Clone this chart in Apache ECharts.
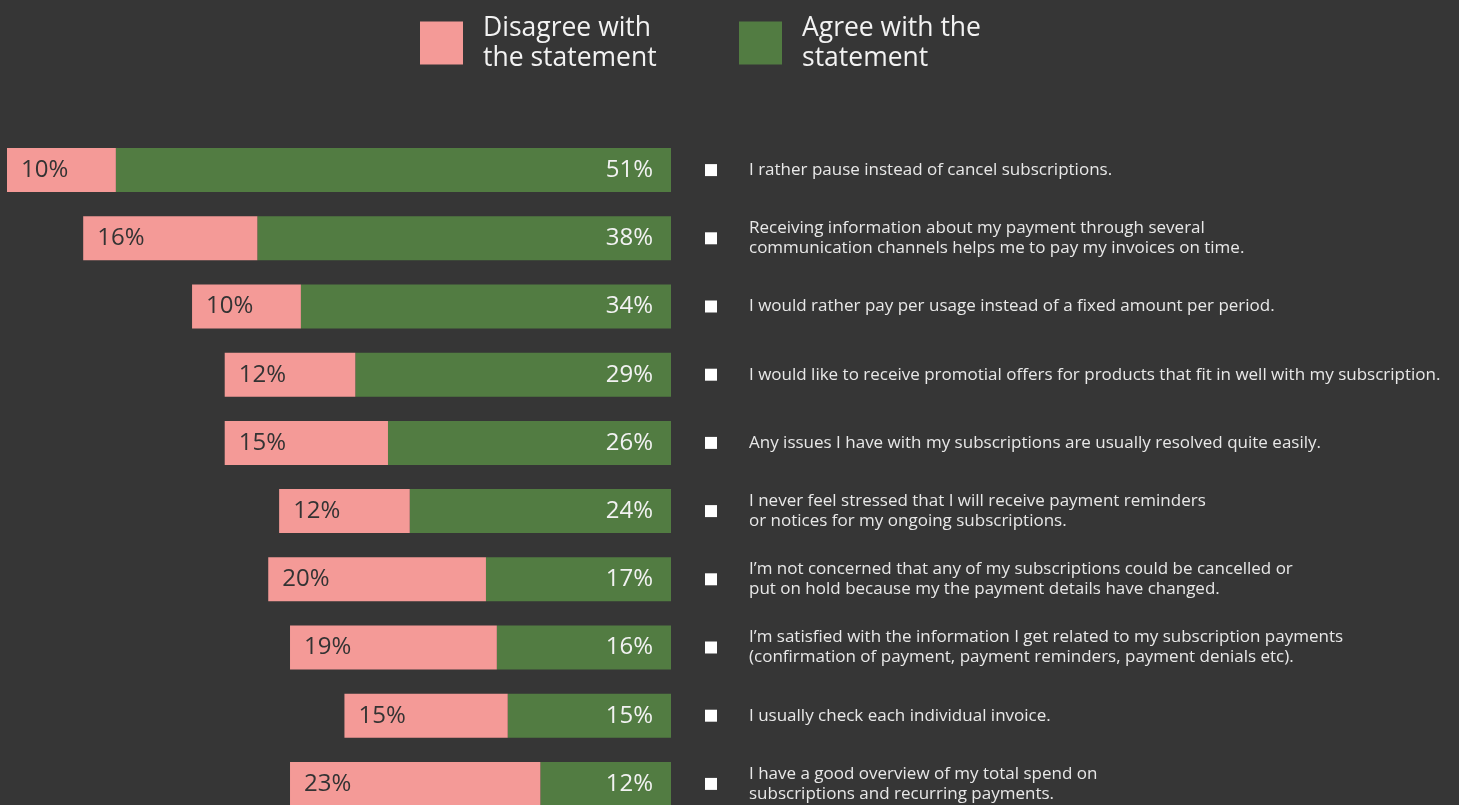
<!DOCTYPE html>
<html>
<head>
<meta charset="utf-8">
<script src="https://cdn.jsdelivr.net/npm/echarts@6/dist/echarts.min.js"></script>
<style>
html,body{margin:0;padding:0;background:#363636;}
#chart{width:1459px;height:805px;}
</style>
</head>
<body>
<div id="chart"></div>
<script>
const statements = [
  "I rather pause instead of cancel subscriptions.",
  "Receiving information about my payment through several\ncommunication channels helps me to pay my invoices on time.",
  "I would rather pay per usage instead of a fixed amount per period.",
  "I would like to receive promotial offers for products that fit in well with my subscription.",
  "Any issues I have with my subscriptions are usually resolved quite easily.",
  "I never feel stressed that I will receive payment reminders\nor notices for my ongoing subscriptions.",
  "I\u2019m not concerned that any of my subscriptions could be cancelled or\nput on hold because my the payment details have changed.",
  "I\u2019m satisfied with the information I get related to my subscription payments\n(confirmation of payment, payment reminders, payment denials etc).",
  "I usually check each individual invoice.",
  "I have a good overview of my total spend on\nsubscriptions and recurring payments."
];
const disagree = [10, 16, 10, 12, 15, 12, 20, 19, 15, 23];
const agree = [51, 38, 34, 29, 26, 24, 17, 16, 15, 12];
const disagreeName = "Disagree with\nthe statement";
const agreeName = "Agree with the\nstatement";

const FONT = "'Open Sans', Lato, sans-serif";
const chart = echarts.init(document.getElementById('chart'));
const legendBase = {
  top: 13, padding: 0, icon: 'rect', itemWidth: 43, itemHeight: 43,
  selectedMode: false,
  textStyle: {color: '#f2f2f2', fontSize: 26.5, lineHeight: 30, fontFamily: FONT, padding: [0, 0, 0, 15]}
};
chart.setOption({
  backgroundColor: '#363636',
  animation: false,
  legend: [
    Object.assign({}, legendBase, {left: 420, data: [disagreeName]}),
    Object.assign({}, legendBase, {left: 739, data: [agreeName]})
  ],
  grid: {left: 7, right: 788, top: 136, height: 682, outerBoundsMode: 'none', containLabel: false},
  xAxis: {type: 'value', inverse: true, min: 0, max: 61, show: false},
  yAxis: [
    {
      type: 'category', inverse: true, position: 'right', data: statements,
      axisLine: {show: false}, axisTick: {show: false}, splitLine: {show: false},
      axisLabel: {
        margin: 34, align: 'left',
        formatter: function () { return '{sq|}'; },
        rich: {sq: {width: 12, height: 12, backgroundColor: '#ffffff'}}
      }
    },
    {
      type: 'category', inverse: true, position: 'right', data: statements,
      axisLine: {show: false}, axisTick: {show: false}, splitLine: {show: false},
      axisLabel: {margin: 78, align: 'left', color: '#e8e8e8', fontSize: 17, lineHeight: 20, fontFamily: FONT}
    }
  ],
  series: [
    {
      name: agreeName, type: 'bar', stack: 'total', barWidth: 44, yAxisIndex: 0,
      data: agree, itemStyle: {color: '#527c42'},
      label: {show: true, position: 'insideRight', distance: 18, color: '#f2f2f2', fontSize: 24, fontFamily: FONT, formatter: '{c}%'}
    },
    {
      name: disagreeName, type: 'bar', stack: 'total', barWidth: 44, yAxisIndex: 0,
      data: disagree, itemStyle: {color: '#f49a97'},
      label: {show: true, position: 'insideLeft', distance: 14, color: '#333333', fontSize: 24, fontFamily: FONT, formatter: '{c}%'}
    }
  ]
});
</script>
</body>
</html>
